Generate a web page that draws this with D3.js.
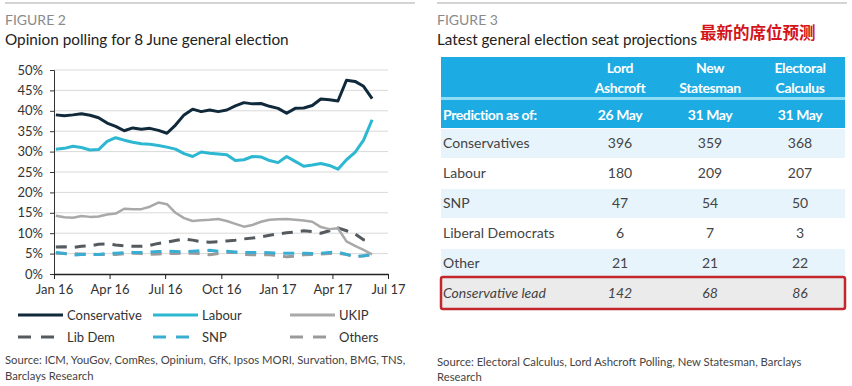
<!DOCTYPE html>
<html>
<head>
<meta charset="utf-8">
<script src="https://cdn.jsdelivr.net/npm/d3@7"></script>
<style>
  body { margin: 0; background: #fff; }
  svg { display: block; font-family: Lato, "Open Sans", sans-serif; }
</style>
</head>
<body>
<div id="chart"></div>
<script>
// poll dates (fortnightly readings)
const pollDates = [
  "2016-01-04","2016-01-18","2016-02-01","2016-02-15","2016-02-29","2016-03-14",
  "2016-03-28","2016-04-11","2016-04-25","2016-05-09","2016-05-23","2016-06-06",
  "2016-06-20","2016-07-04","2016-07-18","2016-08-01","2016-08-15","2016-08-29",
  "2016-09-12","2016-09-26","2016-10-10","2016-10-24","2016-11-07","2016-11-21",
  "2016-12-05","2016-12-19","2017-01-02","2017-01-16","2017-01-30","2017-02-13",
  "2017-02-27","2017-03-13","2017-03-27","2017-04-10","2017-04-24","2017-05-08",
  "2017-05-22","2017-06-05"
];

const conservative = [39.0,38.8,39.0,39.3,38.9,38.3,37.0,36.2,35.1,35.8,35.5,35.7,35.2,34.5,36.5,39.0,40.4,39.8,40.2,39.8,40.2,41.2,42.0,41.7,41.8,41.1,40.6,39.4,40.6,40.7,41.3,42.9,42.7,42.4,47.5,47.2,46.0,43.0];
const labour = [30.6,30.8,31.3,31.0,30.4,30.5,32.5,33.4,32.8,32.3,31.9,31.8,31.5,31.1,30.6,29.5,28.8,29.9,29.6,29.4,29.2,27.8,28.0,28.8,28.7,27.8,27.3,28.8,27.6,26.4,26.7,27.1,26.6,25.7,28.0,29.8,32.8,37.8];
const ukip = [14.3,13.9,13.8,14.2,14.0,14.1,14.6,14.8,16.0,15.9,15.9,16.5,17.5,17.1,15.0,13.7,13.0,13.2,13.3,13.5,13.0,12.3,11.6,12.0,12.8,13.3,13.4,13.5,13.3,13.1,12.8,11.5,11.0,11.2,8.0,6.9,5.9,4.8];
const libDem = [6.6,6.7,6.5,6.8,6.9,7.3,7.4,7.1,6.9,6.8,6.8,7.0,7.5,7.8,8.2,8.6,8.3,7.9,7.8,7.9,8.1,8.3,8.6,8.8,9.1,9.5,9.8,10.1,10.3,10.6,10.4,10.0,10.6,11.3,10.6,9.8,8.4,7.9];
const snp = [5.3,5.0,4.6,4.8,4.8,4.8,5.0,5.1,5.2,5.3,5.3,5.4,5.5,5.6,5.5,5.4,5.6,5.7,5.8,5.6,5.6,5.4,5.3,5.3,5.3,5.2,5.1,5.1,5.1,5.1,5.0,5.1,5.3,5.4,4.8,4.2,4.5,4.6];
const others = [5.1,5.0,5.0,4.9,4.9,4.8,4.8,4.8,5.0,5.1,5.0,4.8,4.9,5.0,5.0,5.1,5.1,5.0,4.7,5.0,5.3,5.3,4.8,4.7,4.7,4.7,4.5,4.2,4.4,4.7,4.8,4.9,5.0,5.1,4.8,4.3,4.4,5.0];

const seriesNames = ["Conservative", "Labour", "UKIP", "Lib Dem", "SNP", "Others"];
const seriesValues = [conservative, labour, ukip, libDem, snp, others];
const seriesColors = ["#10293b", "#2db7d1", "#a9a9a9", "#555a5e", "#3aaed2", "#9a9a9a"];
const seriesDashed = [false, false, false, true, true, true];

const yTicks = [0, 5, 10, 15, 20, 25, 30, 35, 40, 45, 50];
const xTicks = ["2016-01-01","2016-04-01","2016-07-01","2016-10-01","2017-01-01","2017-04-01","2017-07-01"];

// seat projection table
const sources = [["Lord", "Ashcroft"], ["New", "Statesman"], ["Electoral", "Calculus"]];
const predictionDates = ["26 May", "31 May", "31 May"];
const parties = ["Conservatives", "Labour", "SNP", "Liberal Democrats", "Other"];
const ashcroftSeats = [396, 180, 47, 6, 21];
const statesmanSeats = [359, 209, 54, 7, 21];
const calculusSeats = [368, 207, 50, 3, 22];
const conservativeLead = [142, 68, 86];

const W = 852, H = 386;
const parse = d3.timeParse("%Y-%m-%d");

const svg = d3.select("#chart").append("svg")
  .attr("width", W).attr("height", H);

svg.append("rect").attr("width", W).attr("height", H).attr("fill", "#fff");

// ---------- left panel ----------
svg.append("line").attr("x1", 5).attr("x2", 415).attr("y1", 3).attr("y2", 3)
  .attr("stroke", "#d4d4d4").attr("stroke-width", 2);
svg.append("text").attr("x", 5).attr("y", 25)
  .attr("font-size", 14).attr("fill", "#8a8a8a").text("FIGURE 2");
svg.append("text").attr("x", 5).attr("y", 45)
  .attr("font-size", 15.3).attr("fill", "#222").text("Opinion polling for 8 June general election");

const x = d3.scaleTime()
  .domain([parse("2016-01-01"), parse("2017-07-01")])
  .range([54, 388]);
const y = d3.scaleLinear().domain([0, 50]).range([274, 70]);

// gridlines
svg.append("g").selectAll("line")
  .data(yTicks.filter(d => d > 0))
  .join("line")
  .attr("x1", 54).attr("x2", 388)
  .attr("y1", d => y(d)).attr("y2", d => y(d))
  .attr("stroke", "#d9d9d9").attr("stroke-width", 1);

const yAxisG = svg.append("g")
  .attr("transform", "translate(54,0)")
  .call(d3.axisLeft(y).tickValues(yTicks).tickFormat(d => d + "%").tickSize(4).tickPadding(7));
yAxisG.selectAll("text").attr("font-size", 13).attr("fill", "#333").attr("font-family", "Lato, sans-serif");
yAxisG.selectAll("line").attr("stroke", "#333");
yAxisG.select(".domain").attr("stroke", "#333");

const xAxisG = svg.append("g")
  .attr("transform", "translate(0,274)")
  .call(d3.axisBottom(x).tickValues(xTicks.map(parse)).tickFormat(d3.timeFormat("%b %y")).tickSize(5).tickSizeOuter(0).tickPadding(6));
xAxisG.selectAll("text").attr("font-size", 13).attr("fill", "#333").attr("font-family", "Lato, sans-serif");
xAxisG.selectAll("line").attr("stroke", "#222");
xAxisG.select(".domain").attr("stroke", "#222").attr("stroke-width", 1.5);

const line = d3.line()
  .x((d, i) => x(parse(pollDates[i])))
  .y(d => y(d))
  .curve(d3.curveLinear);

// draw back to front: dashed first
const order = [5, 4, 3, 2, 1, 0];
svg.append("g").selectAll("path")
  .data(order)
  .join("path")
  .attr("d", i => line(seriesValues[i]))
  .attr("fill", "none")
  .attr("stroke", i => seriesColors[i])
  .attr("stroke-width", i => (i === 2 ? 2.5 : 3))
  .attr("stroke-linejoin", "round")
  .attr("stroke-dasharray", i => (seriesDashed[i] ? "11,8" : null));

// legend
const legendG = svg.append("g");
const legendX = [18, 153, 290];
const legendY = [315, 337];
seriesNames.forEach((name, i) => {
  const lx = legendX[i % 3], ly = legendY[Math.floor(i / 3)];
  legendG.append("line")
    .attr("x1", lx).attr("x2", lx + 45).attr("y1", ly).attr("y2", ly)
    .attr("stroke", seriesColors[i]).attr("stroke-width", 3)
    .attr("stroke-dasharray", seriesDashed[i] ? "13,10" : null);
  legendG.append("text")
    .attr("x", lx + 49).attr("y", ly + 5)
    .attr("font-size", 13).attr("fill", "#333").text(name);
});

svg.append("text").attr("x", 5).attr("y", 364).attr("font-size", 11.3).attr("fill", "#444")
  .text("Source: ICM, YouGov, ComRes, Opinium, GfK, Ipsos MORI, Survation, BMG, TNS,");
svg.append("text").attr("x", 5).attr("y", 380).attr("font-size", 11.3).attr("fill", "#444")
  .text("Barclays Research");

// ---------- right panel ----------
svg.append("line").attr("x1", 437).attr("x2", 847).attr("y1", 3).attr("y2", 3)
  .attr("stroke", "#d4d4d4").attr("stroke-width", 2);
svg.append("text").attr("x", 437).attr("y", 25)
  .attr("font-size", 14).attr("fill", "#8a8a8a").text("FIGURE 3");
svg.append("text").attr("x", 437).attr("y", 45)
  .attr("font-size", 15.2).attr("fill", "#222").text("Latest general election seat projections");
svg.append("text").attr("x", 700).attr("y", 39)
  .attr("font-size", 16.5).attr("font-weight", "bold").attr("fill", "#d3141c")
  .attr("font-family", "'Noto Sans CJK SC', sans-serif")
  .text("最新的席位预测");

const tLeft = 441, tRight = 845;
const colX = d3.scalePoint().domain([0, 1, 2]).range([620, 800]);
const rowY = d3.scaleBand().domain(d3.range(parties.length + 1)).range([128, 308]);
const blue = "#1cabe2";

svg.append("rect").attr("x", tLeft).attr("y", 57).attr("width", tRight - tLeft).attr("height", 71).attr("fill", blue);
svg.append("rect").attr("x", tLeft).attr("y", 97).attr("width", tRight - tLeft).attr("height", 3).attr("fill", "#8fdcf6");

const headG = svg.append("g").attr("font-weight", "bold").attr("fill", "#fff").attr("font-size", 14).attr("letter-spacing", -0.4);
sources.forEach((s, j) => {
  headG.append("text").attr("x", colX(j)).attr("y", 73).attr("text-anchor", "middle").text(s[0]);
  headG.append("text").attr("x", colX(j)).attr("y", 93).attr("text-anchor", "middle").text(s[1]);
  headG.append("text").attr("x", colX(j)).attr("y", 120).attr("text-anchor", "middle").text(predictionDates[j]);
});
headG.append("text").attr("x", 443).attr("y", 120).text("Prediction as of:");

const seatCols = [ashcroftSeats, statesmanSeats, calculusSeats];
parties.forEach((p, i) => {
  const ry = rowY(i);
  if (i % 2 === 0) {
    svg.append("rect").attr("x", tLeft).attr("y", ry + 1).attr("width", tRight - tLeft)
      .attr("height", rowY.bandwidth() - 1).attr("fill", "#e7f4fb");
  }
  svg.append("text").attr("x", 443).attr("y", ry + 20).attr("font-size", 14).attr("fill", "#444").text(p);
  seatCols.forEach((col, j) => {
    svg.append("text").attr("x", colX(j)).attr("y", ry + 20).attr("text-anchor", "middle")
      .attr("font-size", 14).attr("fill", "#444").text(col[i]);
  });
});

const leadY = rowY(parties.length);
svg.append("rect").attr("x", tLeft).attr("y", leadY - 1).attr("width", tRight - tLeft)
  .attr("height", rowY.bandwidth() + 2).attr("rx", 2)
  .attr("fill", "#ebebeb").attr("stroke", "#c1272d").attr("stroke-width", 2.5);
svg.append("text").attr("x", 443).attr("y", leadY + 20).attr("font-size", 14)
  .attr("font-style", "italic").attr("fill", "#444").text("Conservative lead");
conservativeLead.forEach((v, j) => {
  svg.append("text").attr("x", colX(j)).attr("y", leadY + 20).attr("text-anchor", "middle")
    .attr("font-size", 14).attr("font-style", "italic").attr("fill", "#444").text(v);
});

svg.append("text").attr("x", 437).attr("y", 366).attr("font-size", 11.3).attr("fill", "#444")
  .text("Source: Electoral Calculus, Lord Ashcroft Polling, New Statesman, Barclays");
svg.append("text").attr("x", 437).attr("y", 381).attr("font-size", 11.3).attr("fill", "#444")
  .text("Research");
</script>
</body>
</html>
